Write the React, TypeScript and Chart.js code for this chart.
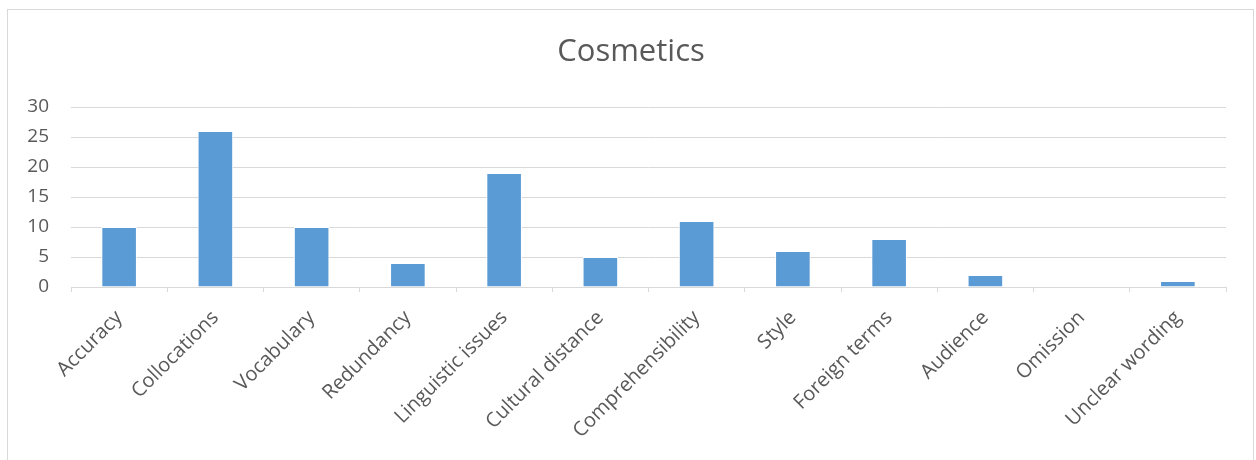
import React, { useEffect, useRef } from 'react';
import { Chart, registerables } from 'chart.js';

Chart.register(...registerables);

const title = 'Cosmetics';
const categories = [
  'Accuracy',
  'Collocations',
  'Vocabulary',
  'Redundancy',
  'Linguistic issues',
  'Cultural distance',
  'Comprehensibility',
  'Style',
  'Foreign terms',
  'Audience',
  'Omission',
  'Unclear wording',
];
const values = [10, 26, 10, 4, 19, 5, 11, 6, 8, 2, 0, 1];
const yMin = 0;
const yMax = 30;
const yStep = 5;

const FONT = '"Open Sans", "DejaVu Sans", sans-serif';
const TEXT = '#595959';
const GRID = '#d9d9d9';

const framePlugin = {
  id: 'frame',
  beforeDraw(chart: any) {
    const ctx = chart.ctx;
    ctx.save();
    ctx.fillStyle = '#ffffff';
    ctx.fillRect(0, 0, chart.width, chart.height);
    ctx.strokeStyle = GRID;
    ctx.lineWidth = 1;
    ctx.strokeRect(7.5, 9.5, 1246, 470);
    ctx.fillStyle = TEXT;
    ctx.font = `31px ${FONT}`;
    ctx.textAlign = 'center';
    ctx.textBaseline = 'middle';
    ctx.fillText(title, 631, 52);
    ctx.restore();
  },
};

export default function App() {
  const ref = useRef<HTMLCanvasElement | null>(null);

  useEffect(() => {
    if (!ref.current) return;
    const chart = new Chart(ref.current, {
      type: 'bar',
      data: {
        labels: categories,
        datasets: [
          {
            data: values,
            backgroundColor: '#5b9bd5',
            borderColor: '#ffffff',
            borderWidth: 1,
            barPercentage: 0.37,
            categoryPercentage: 1,
          },
        ],
      },
      options: {
        responsive: false,
        animation: false,
        layout: { padding: { left: 0, right: 30, top: 107, bottom: 0 } },
        plugins: {
          legend: { display: false },
          tooltip: { enabled: false },
          title: { display: false },
        },
        scales: {
          x: {
            afterFit(scale: any) {
              scale.height = 173;
            },
            grid: {
              display: true,
              drawOnChartArea: false,
              drawTicks: true,
              tickLength: 5,
              color: GRID,
              offset: true,
            },
            border: { display: true, color: GRID, width: 1 },
            ticks: {
              color: TEXT,
              font: { family: FONT, size: 20 },
              maxRotation: 45,
              minRotation: 45,
              autoSkip: false,
              padding: 14,
            },
          },
          y: {
            min: yMin,
            max: yMax,
            afterFit(scale: any) {
              scale.width = 71;
            },
            grid: { color: GRID, drawTicks: false, lineWidth: 1 },
            border: { display: false },
            ticks: {
              stepSize: yStep,
              color: TEXT,
              font: { family: FONT, size: 19 },
              padding: 22,
            },
          },
        },
      },
      plugins: [framePlugin],
    });
    return () => chart.destroy();
  }, []);

  return (
    <div style={{ position: 'fixed', left: 0, top: 0, width: 1256, height: 460, background: '#fff' }}>
      <canvas ref={ref} width={1256} height={460} style={{ display: 'block', width: 1256, height: 460 }} />
    </div>
  );
}
